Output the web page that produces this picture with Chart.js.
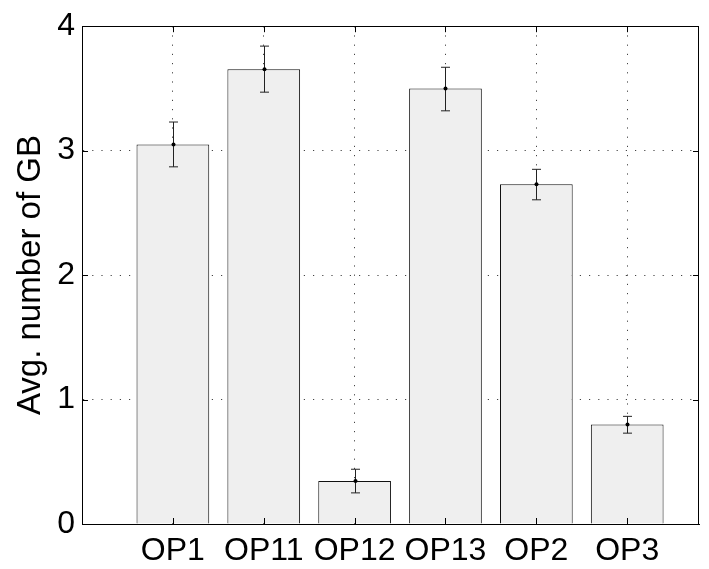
<!DOCTYPE html>
<html>
<head>
<meta charset="utf-8">
<script src="https://cdn.jsdelivr.net/npm/chart.js@4"></script>
<style>
  html, body { margin: 0; padding: 0; background: #fff; }
  #wrap { width: 709px; height: 569px; position: relative; }
</style>
</head>
<body>
<div id="wrap"><canvas id="barChart"></canvas></div>
<script>
// data
const categories = ['OP1', 'OP11', 'OP12', 'OP13', 'OP2', 'OP3'];
const avgValues = [3.05, 3.655, 0.345, 3.50, 2.73, 0.80];
const errLower = [2.87, 3.47, 0.25, 3.32, 2.605, 0.73];
const errUpper = [3.23, 3.84, 0.44, 3.67, 2.85, 0.865];
const yTicks = [0, 1, 2, 3, 4];

const FONT = "'Liberation Sans', Arial, Helvetica, sans-serif";

// error bars + matlab style box with inward ticks
const errorBarPlugin = {
  id: 'errorBars',
  afterDatasetsDraw(chart) {
    const ctx = chart.ctx;
    const y = chart.scales.y;
    const meta = chart.getDatasetMeta(0);
    ctx.save();
    ctx.strokeStyle = '#222';
    ctx.lineWidth = 1;
    meta.data.forEach((bar, i) => {
      const x = Math.round(bar.x) + 0.5;
      const top = y.getPixelForValue(errUpper[i]);
      const bot = y.getPixelForValue(errLower[i]);
      ctx.beginPath();
      ctx.moveTo(x, top); ctx.lineTo(x, bot);
      ctx.moveTo(x - 4.5, top); ctx.lineTo(x + 4.5, top);
      ctx.moveTo(x - 4.5, bot); ctx.lineTo(x + 4.5, bot);
      ctx.stroke();
      ctx.fillStyle = '#000';
      ctx.beginPath();
      ctx.arc(x, y.getPixelForValue(avgValues[i]), 2, 0, Math.PI * 2);
      ctx.fill();
    });
    ctx.restore();
  },
  afterDraw(chart) {
    const ctx = chart.ctx;
    const a = chart.chartArea;
    const xs = chart.scales.x, ys = chart.scales.y;
    ctx.save();
    ctx.strokeStyle = '#000';
    ctx.lineWidth = 1;
    ctx.strokeRect(Math.round(a.left) + 0.5, Math.round(a.top) + 0.5,
      Math.round(a.right - a.left) - 1, Math.round(a.bottom - a.top));
    ctx.beginPath();
    ys.ticks.forEach(t => {
      const p = Math.round(ys.getPixelForValue(t.value)) + 0.5;
      ctx.moveTo(a.left, p); ctx.lineTo(a.left + 6, p);
      ctx.moveTo(a.right, p); ctx.lineTo(a.right - 6, p);
    });
    xs.ticks.forEach(t => {
      const p = Math.round(xs.getPixelForValue(t.value)) + 0.5;
      ctx.moveTo(p, a.bottom); ctx.lineTo(p, a.bottom - 6);
      ctx.moveTo(p, a.top); ctx.lineTo(p, a.top + 6);
    });
    ctx.stroke();
    ctx.restore();
  }
};

const ctx = document.getElementById('barChart').getContext('2d');

new Chart(ctx, {
  type: 'bar',
  data: {
    datasets: [{
      data: avgValues.map((v, i) => ({ x: i + 1, y: v })),
      backgroundColor: '#efefef',
      borderColor: '#111',
      borderWidth: 1,
      barPercentage: 0.8,
      categoryPercentage: 1.0
    }]
  },
  options: {
    responsive: true,
    maintainAspectRatio: false,
    animation: false,
    layout: { padding: { left: 0, top: 18, right: 10, bottom: 0 } },
    plugins: {
      legend: { display: false },
      tooltip: { enabled: false }
    },
    scales: {
      x: {
        type: 'linear',
        min: 0,
        max: 6.79,
        offset: false,
        afterBuildTicks: (axis) => {
          axis.ticks = categories.map((_, i) => ({ value: i + 1 }));
        },
        afterFit: (axis) => { axis.height = 45; },
        grid: {
          offset: false,
          color: '#444',
          lineWidth: 1,
          drawTicks: false
        },
        border: { display: true, color: '#000', dash: [1.2, 8] },
        ticks: {
          autoSkip: false,
          maxRotation: 0,
          padding: 8,
          color: '#000',
          font: { family: FONT, size: 32 },
          callback: (v) => categories[v - 1] || ''
        }
      },
      y: {
        min: 0,
        max: 4,
        afterBuildTicks: (axis) => {
          axis.ticks = yTicks.map(v => ({ value: v }));
        },
        afterFit: (axis) => { axis.width = 82; },
        grid: {
          color: '#444',
          lineWidth: 1,
          drawTicks: false
        },
        border: { display: true, color: '#000', dash: [1.2, 8] },
        ticks: {
          padding: 7,
          color: '#000',
          font: { family: FONT, size: 32 }
        },
        title: {
          display: true,
          text: 'Avg. number of GB',
          color: '#000',
          padding: { top: 14, bottom: 0 },
          font: { family: FONT, size: 33, lineHeight: 1 }
        }
      }
    }
  },
  plugins: [errorBarPlugin]
});
</script>
</body>
</html>
